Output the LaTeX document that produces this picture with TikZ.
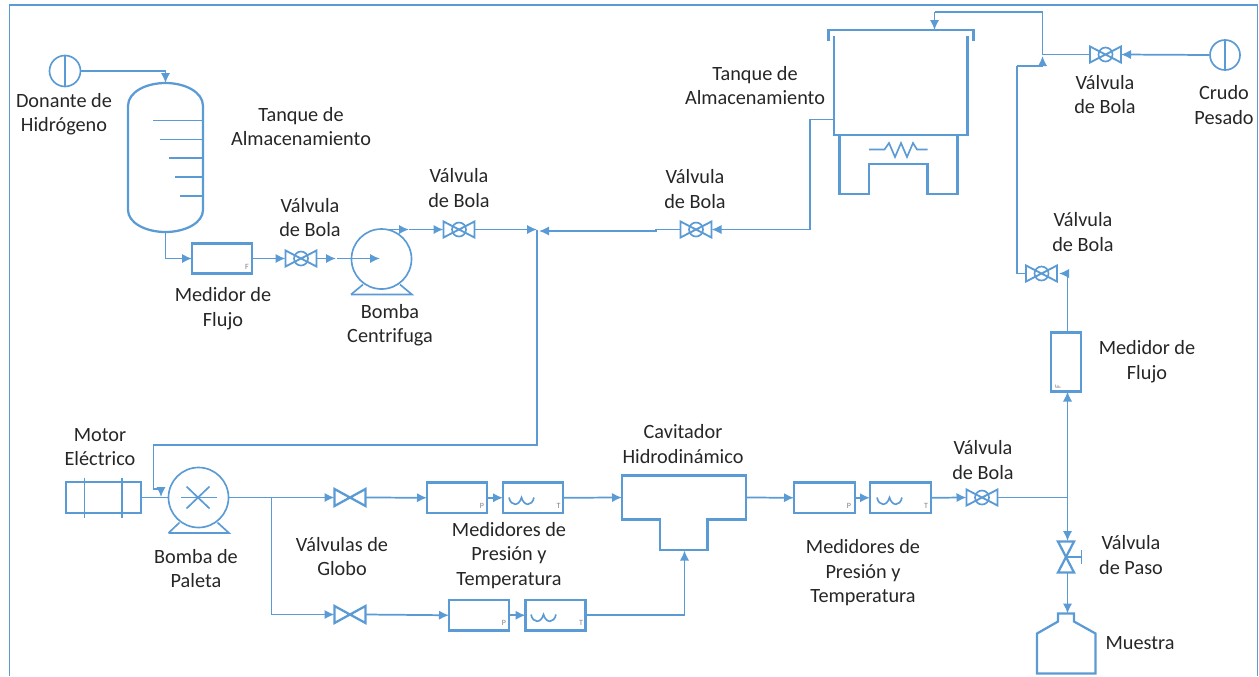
\documentclass[tikz,border=0pt]{standalone}
\usepackage{fontspec}
\setmainfont{Carlito}
\usetikzlibrary{arrows.meta,shapes.geometric}
\definecolor{pid}{HTML}{5B9BD5}
\definecolor{txt}{HTML}{262626}
\tikzset{
  x=0.75pt,y=-0.75pt,
  eq/.style={draw=pid,line width=1.7pt,line join=miter},
  thin eq/.style={draw=pid,line width=1.25pt},
  flow/.style={draw=pid,line width=1.3pt,-{Latex[length=7.5pt,width=7pt]}},
  pipe/.style={draw=pid,line width=1.3pt},
  lab/.style={align=center,font=\fontsize{15.2}{18.4}\selectfont,text=txt,inner sep=0pt},
  tiny lab/.style={font=\fontsize{6}{6}\selectfont,text=gray,inner sep=0pt},
  ghost/.style={inner sep=0pt,outer sep=0pt,rectangle},
}
% rectangular box from corner to corner
\newcommand\eqbox[5]{\node[eq,ghost,minimum width={(#4-#2)*0.75pt},minimum height={(#5-#3)*0.75pt}] (#1) at ({(#2+#4)/2},{(#3+#5)/2}) {};}
% ball valve
\newcommand\ballv[3]{%
  \node[ghost,minimum width=23.25pt,minimum height=12pt] (#1) at (#2,#3) {};
  \begin{scope}[shift={(#2,#3)}]
    \draw[eq,line width=1.4pt] (-15.5,-8) -- (-15.5,8) -- (15.5,-8) -- (15.5,8) -- cycle;
    \draw[thin eq] (-7,0) arc[start angle=180,end angle=-180,radius=7];
  \end{scope}}
% globe valve
\newcommand\globev[3]{%
  \node[ghost,minimum width=23.25pt,minimum height=12.75pt] (#1) at (#2,#3) {};
  \begin{scope}[shift={(#2,#3)}]
    \draw[eq] (-15.5,-8.5) -- (-15.5,8.5) -- (15.5,-8.5) -- (15.5,8.5) -- cycle;
  \end{scope}}
% pressure + temperature wave
\newcommand\wave[2]{%
  \begin{scope}[shift={(#1,#2)}]
    \draw[thin eq] (0,0) .. controls (2,9) and (10,9) .. (12.5,0) .. controls (15,9) and (23,9) .. (25,0);
  \end{scope}}
\begin{document}
\begin{tikzpicture}
\useasboundingbox (0,0) rectangle (1259,676);
% frame
\coordinate (fa) at (9.5,676);
\coordinate (fb) at (9.5,5);
\coordinate (fc) at (1257.5,5);
\coordinate (fd) at (1257.5,676);
\draw[pipe] (fa) -- (fb) -- (fc) -- (fd);

% ---- Donante and column
\node[thin eq,circle,inner sep=0pt,minimum size=23.25pt] (don) at (65,71) {};
\draw[thin eq] (don.north) -- (don.south);
\node[ghost,minimum width=56.25pt,minimum height=111.75pt] (tank1) at (165.5,157.5) {};
\draw[eq] (128,106) .. controls (128,92) and (146,83) .. (165.5,83) .. controls (185,83) and (203,92) .. (203,106)
  -- (203,210) .. controls (203,223) and (185,232) .. (165.5,232) .. controls (146,232) and (128,223) .. (128,210) -- cycle;
\foreach \yy/\xx in {120.5/153,139.5/160,158/168.5,177/175,196/180}{
  \draw[thin eq] (203,\yy) -- (\xx,\yy);
}
\draw[flow] (don.east) -| (tank1.north);

% ---- upper line
\eqbox{fm1}{192}{243.5}{252}{273.5}
\node[tiny lab] (fm1f) at (247,267) {F};
\ballv{v1}{301}{258.5}
\coordinate (g1) at (336,258.5);
\coordinate (g2) at (337,258.5);
\node[thin eq,circle,inner sep=0pt,minimum size=45pt] (pump1) at (381.5,259) {};
\coordinate (p1c) at (380,258.5);
\draw[thin eq] (351,294.5) -- (412,294.5) -- (400,284.5);
\draw[thin eq] (351,294.5) -- (363,284.5);
\draw[flow] (tank1.south) |- (fm1.west);
\draw[flow] (fm1.east) -- (v1.west);
\draw[flow] (v1.east) -- (g1);
\draw[flow] (g2) -- (p1c);
\coordinate (p1o) at (385,229.5);
\coordinate (p1m) at (409,229.5);
\ballv{v2}{459}{229.5}
\coordinate (j1) at (537,229.5);
\coordinate (j1b) at (537,231);
\draw[flow] (p1o) -- (p1m);
\draw[flow] (p1m) -- (v2.west);
\draw[flow] (v2.east) -- (j1);

% ---- heated tank
\node[ghost,minimum width=100.1pt,minimum height=74.25pt] (tank2) at (900.75,85.5) {};
\draw[eq] (834,36) -- (834,135) -- (967.5,135) -- (967.5,36);
\coordinate (t2top) at (934.5,30);
\draw[eq] (828.5,41) -- (828.5,30) -- (973.5,30) -- (973.5,41);
\node[ghost,minimum width=88.5pt,minimum height=44.25pt] (heater) at (898.5,164.5) {};
\draw[eq] (839.5,135) -- (839.5,194) -- (869,194) -- (869,164) -- (927.5,164) -- (927.5,194) -- (957.5,194) -- (957.5,135);
\draw[thin eq] (869,149.5) -- (884.5,149.5) -- (889,143) -- (895,157) -- (901,143) -- (907,157) -- (913,143) -- (917,149.5) -- (927.5,149.5);
\coordinate (t2out) at (834,119.5);
\ballv{v3}{696}{229.5}
\coordinate (j2) at (656,231);
\coordinate (j3) at (656,229.5);
\draw[flow] (tank2.west |- t2out) -- (810,119.5) -- (810,229.5) -- (v3.east);
\draw[flow] (v3.west) -- (j3) -- (j2) -- (539,231);

% ---- crudo feed
\node[thin eq,circle,inner sep=0pt,minimum size=22.5pt] (cru) at (1225,55) {};
\draw[thin eq] (cru.north) -- (cru.south);
\ballv{v4}{1105.5}{54.5}
\coordinate (k1) at (1042.5,54.5);
\coordinate (k2) at (1042.5,12);
\coordinate (k3) at (934.5,12);
\draw[flow] (cru.west) -- (v4.east);
\draw[pipe] (v4.west) -- (k1) -- (k2) -- (k3);
\draw[flow] (k3) -- (t2top);
\coordinate (k4) at (1042.5,66);
\coordinate (k5) at (1017,66);
\coordinate (k6) at (1042.5,56);
\draw[flow] (k5) -- (k4) -- (k6);

% ---- right column
\ballv{v5}{1041.5}{273.5}
\coordinate (k7) at (1017,273.5);
\draw[pipe] (v5.west) -- (k7) -- (k5);
\eqbox{fm2}{1051}{332.5}{1081}{391.5}
\node[tiny lab,rotate=90] (fm2f) at (1058,387) {F};
\coordinate (k8) at (1067.5,273.5);
\coordinate (k9) at (1059,273.5);
\draw[flow] (fm2.north -| k8) -- (k8) -- (k9);

% ---- motor and vane pump
\eqbox{motor}{66}{482}{141}{513}
\coordinate (m1a) at (84.5,477.5);
\coordinate (m1b) at (84.5,517.5);
\coordinate (m2a) at (122,477.5);
\coordinate (m2b) at (122,517.5);
\draw[thin eq] (m1a) -- (m1b);
\draw[thin eq] (m2a) -- (m2b);
\node[thin eq,circle,inner sep=0pt,minimum size=45pt] (pump2) at (198.5,497.5) {};
\draw[pipe] (motor.east) -- (pump2.west);
\draw[thin eq] (168.5,533) -- (229,533) -- (217.5,522.5);
\draw[thin eq] (168.5,533) -- (179.5,522.5);
\draw[thin eq] (181,497.5) -- (217,497.5);
\draw[thin eq] (186.5,486.5) -- (209.5,508.5);
\draw[thin eq] (186.5,508.5) -- (209.5,486.5);
\coordinate (l1) at (537,445);
\coordinate (l2) at (153.5,445);
\coordinate (l3) at (153.5,489);
\coordinate (l4) at (161,489);
\coordinate (l5) at (161,497);
\draw[pipe] (j1) -- (l1) -- (l2) -- (l3) -- (l4);
\draw[flow] (l4) -- (l5);

% ---- lower lines
\globev{g1v}{350}{497.5}
\globev{g2v}{350}{614.5}
\eqbox{pm1}{427}{482.5}{487}{513}
\eqbox{tm1}{503}{482.5}{563}{513}
\node[tiny lab] (pm1p) at (482,506) {P};
\node[tiny lab] (tm1t) at (558.5,506) {T};
\wave{509}{497.5}
\eqbox{pm2}{449}{600}{509}{630.5}
\eqbox{tm2}{525.5}{600}{585.5}{630.5}
\node[tiny lab] (pm2p) at (504,623) {P};
\node[tiny lab] (tm2t) at (581,623) {T};
\wave{531}{614.5}
\coordinate (b1) at (271.5,497.5);
\coordinate (b2) at (271.5,614.5);
\draw[flow] (pump2.east) -- (g1v.west);
\draw[flow] (g1v.east) -- (pm1.west);
\draw[flow] (pm1.east) -- (tm1.west);
\draw[pipe] (b1) -- (b2);
\draw[flow] (b2) -- (g2v.west);
\draw[flow] (g2v.east) -- (pm2.west);
\draw[flow] (pm2.east) -- (tm2.west);

% ---- cavitator
\node[ghost,minimum width=93pt,minimum height=56.25pt] (cav) at (684,512.5) {};
\draw[eq] (622,475.5) -- (746,475.5) -- (746,519.5) -- (707.5,519.5) -- (707.5,550) -- (660,550) -- (660,519.5) -- (622,519.5) -- cycle;
\coordinate (cin) at (622,497.5);
\coordinate (cout) at (746,497.5);
\coordinate (cbot) at (684.5,550.5);
\draw[flow] (tm1.east) -- (cin);
\draw[flow] (tm2.east) -| (cbot);

\eqbox{pm3}{794}{482.5}{855}{513}
\eqbox{tm3}{870}{482.5}{931}{513}
\node[tiny lab] (pm3p) at (849,505.5) {P};
\node[tiny lab] (tm3t) at (926,505.5) {T};
\wave{877}{497.5}
\ballv{v6}{982}{497.5}
\draw[flow] (cout) -- (pm3.west);
\draw[flow] (pm3.east) -- (tm3.west);
\draw[flow] (tm3.east) -- (v6.west);
\coordinate (r1) at (1067.5,497.5);
\draw[pipe] (v6.east) -- (r1);
\draw[flow] (r1) -- (fm2.south -| r1);

% ---- gate valve and sample
\node[ghost,minimum width=12pt,minimum height=23.25pt] (gate) at (1066,557) {};
\draw[eq] (1058,541.5) -- (1074,541.5) -- (1058,572.5) -- (1074,572.5) -- cycle;
\coordinate (hc) at (1066,557);
\coordinate (he) at (1081.5,557);
\coordinate (h1) at (1081.5,550);
\coordinate (h2) at (1081.5,564);
\draw[thin eq] (hc) -- (he);
\draw[thin eq] (h1) -- (h2);
\coordinate (gtop) at (1067.5,541);
\coordinate (gbot) at (1067.5,572.5);
\coordinate (btop) at (1067.5,613.5);
\draw[flow] (r1) -- (gtop);
\draw[flow] (gbot) -- (btop);
\node[ghost,minimum width=44pt,minimum height=45pt] (bottle) at (1066,643.5) {};
\draw[eq] (1037,673.5) -- (1037,633.5) -- (1058,621.5) -- (1058,613.5) -- (1074,613.5) -- (1074,621.5) -- (1095.5,633.5) -- (1095.5,673.5) -- cycle;

% ---- labels
\node[lab] (t1) at (64,114) {Donante de\\Hidrógeno};
\node[lab] (t2) at (301,126.5) {Tanque de\\Almacenamiento};
\node[lab] (t3) at (310,217.5) {Válvula\\de Bola};
\node[lab] (t4) at (223,308.5) {Medidor de\\Flujo};
\node[lab] (t5) at (390,325) {Bomba\\Centrifuga};
\node[lab] (t6) at (459,188) {Válvula\\de Bola};
\node[lab] (t7) at (695,189) {Válvula\\de Bola};
\node[lab] (t8) at (755,85.5) {Tanque de\\Almacenamiento};
\node[lab] (t9) at (1105,94.5) {Válvula\\de Bola};
\node[lab] (t10) at (1224,105) {Crudo\\Pesado};
\node[lab] (t11) at (1083,232) {Válvula\\de Bola};
\node[lab] (t12) at (1147,361.5) {Medidor de\\Flujo};
\node[lab] (t13) at (100,447) {Motor\\Eléctrico};
\node[lab] (t14) at (196,568.5) {Bomba de\\Paleta};
\node[lab] (t15) at (342,556.5) {Válvulas de\\Globo};
\node[lab] (t16) at (509,555.5) {Medidores de\\Presión y\\Temperatura};
\node[lab] (t17) at (683,444) {Cavitador\\Hidrodinámico};
\node[lab] (t18) at (863,573) {Medidores de\\Presión y\\Temperatura};
\node[lab] (t19) at (983,460) {Válvula\\de Bola};
\node[lab] (t20) at (1131,555) {Válvula\\de Paso};
\node[lab] (t21) at (1140,643) {Muestra};
\end{tikzpicture}
\end{document}
